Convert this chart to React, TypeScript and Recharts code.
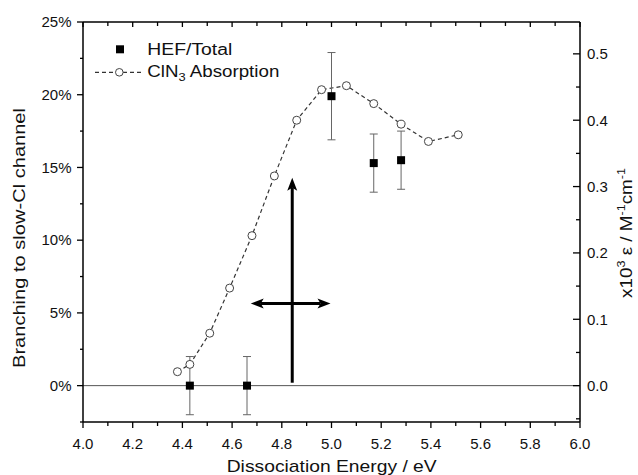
import React from 'react';
import {
  ComposedChart,
  Line,
  Scatter,
  XAxis,
  YAxis,
  ErrorBar,
  ReferenceLine,
  Legend,
} from 'recharts';

// ---------- data ----------
const hefEnergy = [4.43, 4.66, 5.0, 5.17, 5.28];
const hefBranching = [0, 0, 19.9, 15.3, 15.5];
const hefError = [2, 2, 3, 2, 2];

const absEnergy = [4.38, 4.43, 4.51, 4.59, 4.68, 4.77, 4.86, 4.96, 5.06, 5.17, 5.28, 5.39, 5.51];
const absValue = [0.021, 0.032, 0.079, 0.147, 0.226, 0.316, 0.4, 0.446, 0.452, 0.425, 0.394, 0.368, 0.378];

const xTicks = [4.0, 4.1, 4.2, 4.3, 4.4, 4.5, 4.6, 4.7, 4.8, 4.9, 5.0, 5.1, 5.2, 5.3, 5.4, 5.5, 5.6, 5.7, 5.8, 5.9, 6.0];
const leftTicks = [-2.5, 0, 2.5, 5, 7.5, 10, 12.5, 15, 17.5, 20, 22.5, 25];
const rightTicks = [-0.05, 0, 0.05, 0.1, 0.15, 0.2, 0.25, 0.3, 0.35, 0.4, 0.45, 0.5];

// annotation arrows (data units: energy / branching %)
const arrowX1 = [4.842, 4.675];
const arrowY1 = [0.2, 5.65];
const arrowX2 = [4.842, 4.996];
const arrowY2 = [14.3, 5.65];
const arrowBothEnds = [false, true];

const hefData = hefEnergy.map((x, i) => ({ x, y: hefBranching[i], err: hefError[i] }));
const absData = absEnergy.map((x, i) => ({ x, y: absValue[i] }));

// ---------- layout ----------
const W = 638;
const H = 475;
const FONT = "'Liberation Sans', Arial, Helvetica, sans-serif";
const TEXT = '#111';

const isMultiple = (v: number, step: number) => Math.abs(v / step - Math.round(v / step)) < 1e-6;

const BottomTick = (props: any) => {
  const { x, y, payload } = props;
  const v = Number(payload.value);
  const major = isMultiple(v, 0.2);
  return (
    <g>
      <line x1={x} y1={y} x2={x} y2={y + (major ? 6 : 4)} stroke="#000" strokeWidth={1.3} />
      {major && (
        <text x={x} y={y + 26.5} textAnchor="middle" fontSize={15} fontFamily={FONT} fill={TEXT}>
          {v.toFixed(1)}
        </text>
      )}
    </g>
  );
};

const TopTick = (props: any) => {
  const { x, y, payload } = props;
  const v = Number(payload.value);
  const major = isMultiple(v, 0.2);
  return <line x1={x} y1={y} x2={x} y2={y + (major ? 5 : 4)} stroke="#000" strokeWidth={1.3} />;
};

const LeftTick = (props: any) => {
  const { x, y, payload } = props;
  const v = Number(payload.value);
  const major = isMultiple(v, 5);
  return (
    <g>
      <line x1={x} y1={y} x2={x - (major ? 6 : 3)} y2={y} stroke="#000" strokeWidth={1.3} />
      {major && (
        <text x={x - 11.5} y={y + 5.3} textAnchor="end" fontSize={15} fontFamily={FONT} fill={TEXT}>
          {`${v}%`}
        </text>
      )}
    </g>
  );
};

const RightTick = (props: any) => {
  const { x, y, payload } = props;
  const v = Number(payload.value);
  const major = isMultiple(v, 0.1);
  return (
    <g>
      <line x1={x} y1={y} x2={x - (major ? 7 : 4)} y2={y} stroke="#000" strokeWidth={1.3} />
      {major && (
        <text x={x + 7} y={y + 5.3} textAnchor="start" fontSize={15} fontFamily={FONT} fill={TEXT}>
          {v.toFixed(1)}
        </text>
      )}
    </g>
  );
};

const XTitle = () => (
  <text
    x={331.7}
    y={471.7}
    textAnchor="middle"
    fontSize={17}
    fontFamily={FONT}
    fill={TEXT}
    textLength={210}
    lengthAdjust="spacingAndGlyphs"
  >
    Dissociation Energy / eV
  </text>
);

const LeftTitle = () => (
  <text
    x={25}
    y={238}
    transform="rotate(-90, 25, 238)"
    textAnchor="middle"
    fontSize={17}
    fontFamily={FONT}
    fill={TEXT}
    textLength={260}
    lengthAdjust="spacingAndGlyphs"
  >
    Branching to slow-Cl channel
  </text>
);

const RightTitle = () => (
  <text
    x={632}
    y={233}
    transform="rotate(-90, 632, 233)"
    textAnchor="middle"
    fontSize={16.5}
    fontFamily={FONT}
    fill={TEXT}
    textLength={130}
    lengthAdjust="spacingAndGlyphs"
  >
    x10
    <tspan dy={-7} fontSize={11}>3</tspan>
    <tspan dy={7}> ε / M</tspan>
    <tspan dy={-7} fontSize={11}>-1</tspan>
    <tspan dy={7}>cm</tspan>
    <tspan dy={-7} fontSize={11}>-1</tspan>
  </text>
);

const makeArrow = (both: boolean) => (props: any) => {
  const { x1, y1, x2, y2 } = props;
  const dx = x2 - x1;
  const dy = y2 - y1;
  const len = Math.hypot(dx, dy) || 1;
  const ux = dx / len;
  const uy = dy / len;
  const px = -uy;
  const py = ux;
  const hl = 13;
  const hw = 5;
  const notch = 3;
  const head = (tx: number, ty: number, dirx: number, diry: number) => {
    const bx = tx - dirx * hl;
    const by = ty - diry * hl;
    const nx = bx + dirx * notch;
    const ny = by + diry * notch;
    return `${tx},${ty} ${bx + px * hw},${by + py * hw} ${nx},${ny} ${bx - px * hw},${by - py * hw}`;
  };
  const sx = both ? x1 + ux * (hl - notch) : x1;
  const sy = both ? y1 + uy * (hl - notch) : y1;
  const ex = x2 - ux * (hl - notch);
  const ey = y2 - uy * (hl - notch);
  return (
    <g>
      <line x1={sx} y1={sy} x2={ex} y2={ey} stroke="#000" strokeWidth={3} />
      <polygon points={head(x2, y2, ux, uy)} fill="#000" />
      {both && <polygon points={head(x1, y1, -ux, -uy)} fill="#000" />}
    </g>
  );
};

const LegendBox = () => (
  <svg width={200} height={52} style={{ display: 'block', overflow: 'visible' }}>
    <rect x={26} y={9.3} width={8} height={8} fill="#000" />
    <text x={57.3} y={19} fontSize={16} fontFamily={FONT} fill={TEXT} textLength={85} lengthAdjust="spacingAndGlyphs">
      HEF/Total
    </text>
    <line x1={5} y1={36.3} x2={53} y2={36.3} stroke="#333" strokeWidth={1.2} strokeDasharray="4 3" />
    <circle cx={29.3} cy={36.3} r={3.8} fill="#fff" stroke="#444" strokeWidth={1} />
    <text x={57.3} y={41.3} fontSize={16} fontFamily={FONT} fill={TEXT} textLength={132} lengthAdjust="spacingAndGlyphs">
      ClN
      <tspan dy={4} fontSize={11}>3</tspan>
      <tspan dy={-4}> Absorption</tspan>
    </text>
  </svg>
);

export default function App() {
  return (
    <div style={{ position: 'absolute', left: 0, top: 0, width: W, height: H, background: '#fff' }}>
      <ComposedChart width={W} height={H} margin={{ top: 20, right: 0, bottom: 0, left: 0 }}>
        <XAxis
          xAxisId="bottom"
          dataKey="x"
          type="number"
          orientation="bottom"
          domain={[4, 6]}
          ticks={xTicks}
          interval={0}
          allowDataOverflow
          height={53}
          tickSize={0}
          tickMargin={0}
          tickLine={false}
          tick={<BottomTick />}
          axisLine={{ stroke: '#000', strokeWidth: 1.5 }}
          label={(p: any) => <XTitle />}
        />
        <XAxis
          xAxisId="top"
          dataKey="x"
          type="number"
          orientation="top"
          domain={[4, 6]}
          ticks={xTicks}
          interval={0}
          allowDataOverflow
          height={2}
          tickSize={0}
          tickMargin={0}
          tickLine={false}
          tick={<TopTick />}
          axisLine={{ stroke: '#000', strokeWidth: 1.5 }}
        />
        <YAxis
          yAxisId="left"
          type="number"
          orientation="left"
          domain={[-2.5, 25]}
          ticks={leftTicks}
          interval={0}
          allowDataOverflow
          width={83}
          tickSize={0}
          tickMargin={0}
          tickLine={false}
          tick={<LeftTick />}
          axisLine={{ stroke: '#000', strokeWidth: 1.5 }}
          label={(p: any) => <LeftTitle />}
        />
        <YAxis
          yAxisId="right"
          type="number"
          orientation="right"
          domain={[-0.0548, 0.548]}
          ticks={rightTicks}
          interval={0}
          allowDataOverflow
          width={58}
          tickSize={0}
          tickMargin={0}
          tickLine={false}
          tick={<RightTick />}
          axisLine={{ stroke: '#000', strokeWidth: 1.5 }}
          label={(p: any) => <RightTitle />}
        />
        <ReferenceLine xAxisId="bottom" yAxisId="left" y={0} stroke="#555" strokeWidth={1} />
        {arrowX1.map((_, i) => (
          <ReferenceLine
            key={`arrow-${i}`}
            xAxisId="bottom"
            yAxisId="left"
            segment={[
              { x: arrowX1[i], y: arrowY1[i] },
              { x: arrowX2[i], y: arrowY2[i] },
            ]}
            shape={makeArrow(arrowBothEnds[i])}
          />
        ))}
        <Line
          xAxisId="bottom"
          yAxisId="right"
          data={absData}
          dataKey="y"
          name="ClN3 Absorption"
          type="linear"
          stroke="#333"
          strokeWidth={1.2}
          strokeDasharray="4 3"
          dot={{ r: 4, stroke: '#444', strokeWidth: 1, fill: '#fff', strokeDasharray: '0' }}
          activeDot={false}
          isAnimationActive={false}
        />
        <Scatter
          xAxisId="bottom"
          yAxisId="left"
          data={hefData}
          dataKey="y"
          name="HEF/Total"
          isAnimationActive={false}
          shape={(p: any) => <rect x={p.cx - 4} y={p.cy - 4} width={8} height={8} fill="#000" />}
        >
          <ErrorBar dataKey="err" direction="y" width={4} stroke="#666" strokeWidth={1} isAnimationActive={false} />
        </Scatter>
        <Legend
          layout="vertical"
          align="center"
          verticalAlign="middle"
          content={() => <LegendBox />}
          wrapperStyle={{ left: 90, top: 36, width: 200, height: 52 }}
        />
      </ComposedChart>
    </div>
  );
}
